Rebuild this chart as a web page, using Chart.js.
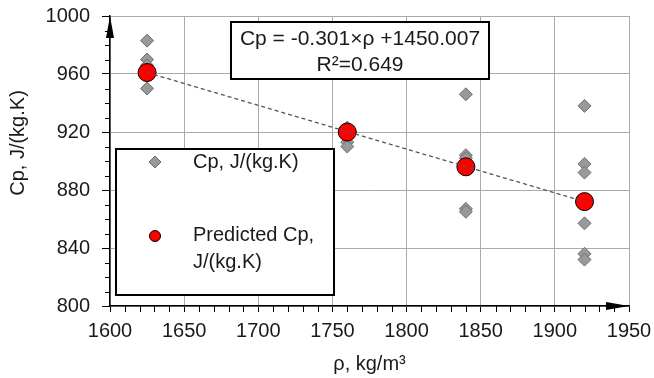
<!DOCTYPE html>
<html>
<head>
<meta charset="utf-8">
<script src="https://cdn.jsdelivr.net/npm/chart.js@4.4.1/dist/chart.umd.min.js"></script>
<style>
  html, body { margin: 0; padding: 0; background: #fff; }
  #wrap { width: 654px; height: 378px; }
</style>
</head>
<body>
<div id="wrap"><canvas id="chart" width="654" height="378"></canvas></div>
<script>
const rhoGroups = [1625, 1760, 1840, 1920];
const measuredCp = [
  [983, 970, 966, 961, 950],
  [923, 921, 913, 910],
  [946, 904, 902, 867, 865],
  [938, 898, 892, 857, 836, 832]
];
const predictedCp = [961, 920, 896, 872];
const trendRho = [1625, 1920];
const trendCp = [961, 872];

const xTicks = [1600, 1650, 1700, 1750, 1800, 1850, 1900, 1950];
const yTicks = [800, 840, 880, 920, 960, 1000];

const xTitle = 'ρ, kg/m³';
const yTitle = 'Cp, J/(kg.K)';
const eqLines = ['Cp = -0.301×ρ +1450.007', 'R²=0.649'];

const FONT = "'Liberation Sans', Arial, sans-serif";
const TEXT = '#1a1a1a';

const measuredPts = [];
rhoGroups.forEach((r, i) => measuredCp[i].forEach(v => measuredPts.push({ x: r, y: v })));
const predictedPts = rhoGroups.map((r, i) => ({ x: r, y: predictedCp[i] }));
const trendPts = trendRho.map((r, i) => ({ x: r, y: trendCp[i] }));

// minor ticks, axis arrows, y title, equation box and legend box
const decor = {
  id: 'decor',
  afterDatasetsDraw(chart) {
    const ctx = chart.ctx;
    const xs = chart.scales.x, ys = chart.scales.y;
    const area = chart.chartArea;
    ctx.save();

    // equation box
    ctx.fillStyle = '#fff';
    ctx.fillRect(231, 22, 258, 57);
    ctx.strokeStyle = '#000';
    ctx.lineWidth = 2;
    ctx.strokeRect(231, 22, 258, 57);
    ctx.fillStyle = TEXT;
    ctx.font = '21px ' + FONT;
    ctx.textAlign = 'center';
    ctx.textBaseline = 'middle';
    ctx.fillText(eqLines[0], 360, 39);
    ctx.fillText(eqLines[1], 360, 65);

    // legend box
    ctx.fillStyle = '#fff';
    ctx.fillRect(116, 149, 218, 146);
    ctx.strokeRect(116, 149, 218, 146);
    const ds = chart.data.datasets;
    const m = ds[1], p = ds[2];
    ctx.lineWidth = 1;
    ctx.fillStyle = m.backgroundColor; ctx.strokeStyle = m.borderColor;
    ctx.beginPath();
    ctx.moveTo(155, 156); ctx.lineTo(161, 162); ctx.lineTo(155, 168); ctx.lineTo(149, 162); ctx.closePath();
    ctx.fill(); ctx.stroke();
    ctx.fillStyle = p.backgroundColor; ctx.strokeStyle = p.borderColor;
    ctx.beginPath(); ctx.arc(155, 236, 5.5, 0, Math.PI * 2); ctx.fill(); ctx.stroke();
    ctx.fillStyle = TEXT;
    ctx.font = '20px ' + FONT;
    ctx.textAlign = 'left';
    ctx.fillText(m.label, 193, 162);
    const pl = p.label.split('\n');
    ctx.fillText(pl[0], 193, 235);
    ctx.fillText(pl[1], 193, 262);

    // y axis title
    ctx.save();
    ctx.translate(18, 143);
    ctx.rotate(-Math.PI / 2);
    ctx.textAlign = 'center';
    ctx.fillText(yTitle, 0, 0);
    ctx.restore();

    // minor ticks
    ctx.strokeStyle = '#000';
    ctx.lineWidth = 1;
    ctx.beginPath();
    for (let v = xs.min; v <= xs.max; v += 10) {
      if (v % 50 === 0) continue;
      const px = Math.round(xs.getPixelForValue(v)) + 0.5;
      ctx.moveTo(px, area.bottom); ctx.lineTo(px, area.bottom + 6);
    }
    for (let v = ys.min; v <= ys.max; v += 10) {
      if (v % 40 === 0) continue;
      const py = Math.round(ys.getPixelForValue(v)) + 0.5;
      ctx.moveTo(area.left - 5, py); ctx.lineTo(area.left, py);
    }
    ctx.stroke();

    // arrows
    ctx.fillStyle = '#000';
    ctx.beginPath();
    ctx.moveTo(area.left, area.top); ctx.lineTo(area.left - 4, area.top + 22); ctx.lineTo(area.left + 4, area.top + 22);
    ctx.closePath(); ctx.fill();
    ctx.beginPath();
    ctx.moveTo(area.right, area.bottom); ctx.lineTo(area.right - 23, area.bottom - 4); ctx.lineTo(area.right - 23, area.bottom + 4);
    ctx.closePath(); ctx.fill();
    ctx.restore();
  }
};

const noPad = s => { s.paddingTop = 0; s.paddingBottom = 0; s.paddingLeft = 0; s.paddingRight = 0; };

new Chart(document.getElementById('chart'), {
  type: 'scatter',
  data: {
    datasets: [
      {
        type: 'line',
        label: 'Trend',
        data: trendPts,
        borderColor: '#555',
        borderWidth: 1.3,
        borderDash: [4, 3],
        pointRadius: 0,
        fill: false,
        order: 0
      },
      {
        label: 'Cp, J/(kg.K)',
        data: measuredPts,
        pointStyle: 'rectRot',
        pointRadius: 6.5,
        backgroundColor: '#999999',
        borderColor: '#6e6e6e',
        borderWidth: 1,
        order: 2
      },
      {
        label: 'Predicted Cp,\nJ/(kg.K)',
        data: predictedPts,
        pointStyle: 'circle',
        pointRadius: 9,
        backgroundColor: '#ff0000',
        borderColor: '#000',
        borderWidth: 1,
        order: 1
      }
    ]
  },
  options: {
    responsive: false,
    animation: false,
    devicePixelRatio: 1,
    layout: { padding: { top: 16, right: 25, left: 0, bottom: 0 } },
    plugins: { legend: { display: false }, tooltip: { enabled: false } },
    scales: {
      x: {
        type: 'linear',
        min: xTicks[0],
        max: xTicks[xTicks.length - 1],
        afterBuildTicks: s => { s.ticks = xTicks.map(v => ({ value: v })); },
        afterFit: s => { s.height = 72; noPad(s); },
        ticks: { color: TEXT, font: { family: FONT, size: 20 }, padding: 7, maxRotation: 0, callback: v => String(v) },
        grid: { color: '#aaaaaa', lineWidth: 1, tickColor: '#000', tickLength: 6 },
        border: { color: '#000', width: 1.5 },
        title: { display: true, text: xTitle, color: TEXT, font: { family: FONT, size: 20 }, padding: { top: 0, bottom: 2 } }
      },
      y: {
        type: 'linear',
        min: yTicks[0],
        max: yTicks[yTicks.length - 1],
        afterBuildTicks: s => { s.ticks = yTicks.map(v => ({ value: v })); },
        afterFit: s => { s.width = 110; noPad(s); },
        ticks: { color: TEXT, font: { family: FONT, size: 20 }, padding: 12, callback: v => String(v) },
        grid: { color: '#aaaaaa', lineWidth: 1, tickColor: '#000', tickLength: 8 },
        border: { color: '#000', width: 1.5 }
      }
    }
  },
  plugins: [decor]
});
</script>
</body>
</html>
